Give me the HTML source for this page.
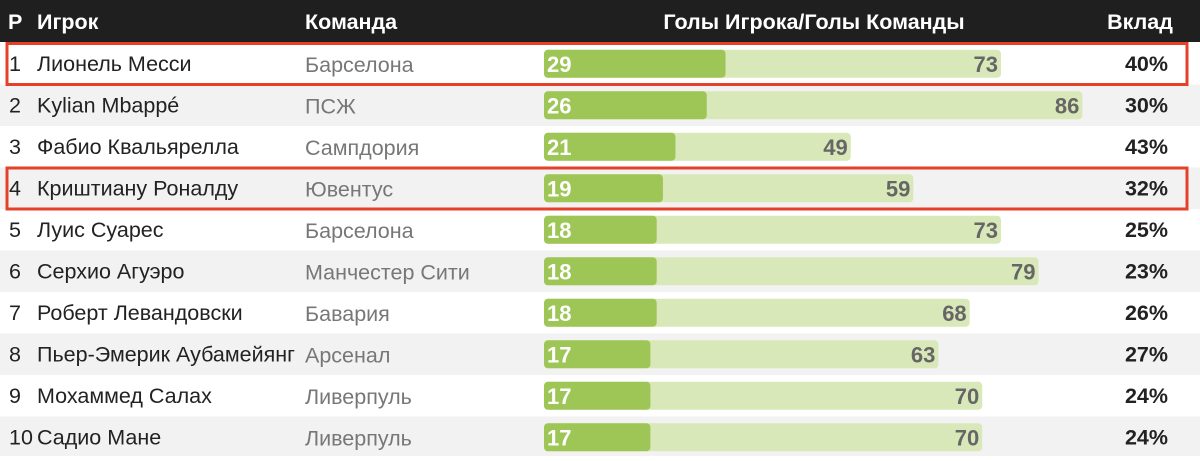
<!DOCTYPE html>
<html><head><meta charset="utf-8"><style>
body{margin:0;width:1200px;height:456px;overflow:hidden;background:#fff;font-family:"Liberation Sans",Arial,sans-serif}
svg text{font-family:"Liberation Sans",Arial,sans-serif}
</style></head><body>
<svg id="chart" width="1200" height="456" xmlns="http://www.w3.org/2000/svg"></svg>
<script>
const ranks=["1","2","3","4","5","6","7","8","9","10"];
const players=["Лионель Месси","Kylian Mbappé","Фабио Квальярелла","Криштиану Роналду","Луис Суарес","Серхио Агуэро","Роберт Левандовски","Пьер-Эмерик Аубамейянг","Мохаммед Салах","Садио Мане"];
const teams=["Барселона","ПСЖ","Сампдория","Ювентус","Барселона","Манчестер Сити","Бавария","Арсенал","Ливерпуль","Ливерпуль"];
const playerGoals=[29,26,21,19,18,18,18,17,17,17];
const teamGoals=[73,86,49,59,73,79,68,63,70,70];
const shares=["40%","30%","43%","32%","25%","23%","26%","27%","24%","24%"];
const highlighted=[0,3];
const svg=document.getElementById('chart');
const NS="http://www.w3.org/2000/svg";
const x0=544,pxPerGoal=6.26;
const xs=v=>x0+v*pxPerGoal;
const rowTop=i=>43+i*41.5, rowH=41.5;
const FS=21.5;
function mk(tag,attrs,txt){const e=document.createElementNS(NS,tag);for(const k in attrs)e.setAttribute(k,attrs[k]);if(txt!==undefined)e.textContent=txt;svg.appendChild(e);return e;}
let h=mk('rect',{x:0,y:0,width:1200,height:42,fill:'#1f1f1f'});


const heads=[["P",8,'start','header-rank'],["Игрок",37,'start','header-player'],["Команда",305,'start','header-team'],["Голы Игрока/Голы Команды",814,'middle','header-goals'],["Вклад",1140,'middle','header-share']];
heads.forEach(hd=>{const t=mk('text',{x:hd[1],y:29,fill:'#fff','font-size':FS,'font-weight':'bold','text-anchor':hd[2]},hd[0]);

});
players.forEach((p,i)=>{
 const y=rowTop(i),cy=y+rowH/2;
 const bg=mk('rect',{x:0,y:y,width:1200,height:rowH+0.5,fill:i%2?'#f2f2f2':'#fff'});
 
 
 const r=mk('text',{x:9,y:cy+7,'font-size':FS,fill:'#222'},ranks[i]);
 
 
 const n=mk('text',{x:37,y:cy+7,'font-size':FS,fill:'#222'},p);
 
 
 const tm=mk('text',{x:305,y:cy+8,'font-size':FS,fill:'#777'},teams[i]);
 
 
 const tb=mk('rect',{x:x0,y:cy-14,width:xs(teamGoals[i])-x0,height:28,rx:4,fill:'#d9e8b8'});
 
 
 const pb=mk('rect',{x:x0,y:cy-14,width:xs(playerGoals[i])-x0,height:28,rx:4,fill:'#9ec656'});
 
 
 const pv=mk('text',{x:x0+3,y:cy+8,'font-size':22,'font-weight':'bold',fill:'#fff'},playerGoals[i]);
 
 
 const tv=mk('text',{x:xs(teamGoals[i])-3,y:cy+8,'font-size':22,'font-weight':'bold',fill:'#666','text-anchor':'end'},teamGoals[i]);
 
 
 const sv=mk('text',{x:1168,y:cy+7,'font-size':FS,'font-weight':'bold',fill:'#222','text-anchor':'end'},shares[i]);
 
 
});
highlighted.forEach(i=>{
 const y=rowTop(i);
 const b=mk('rect',{x:7,y:y+0.5,width:1180,height:rowH-0.5,fill:'none',stroke:'#e5402a','stroke-width':3});
 
 
});
</script>
</body></html>
